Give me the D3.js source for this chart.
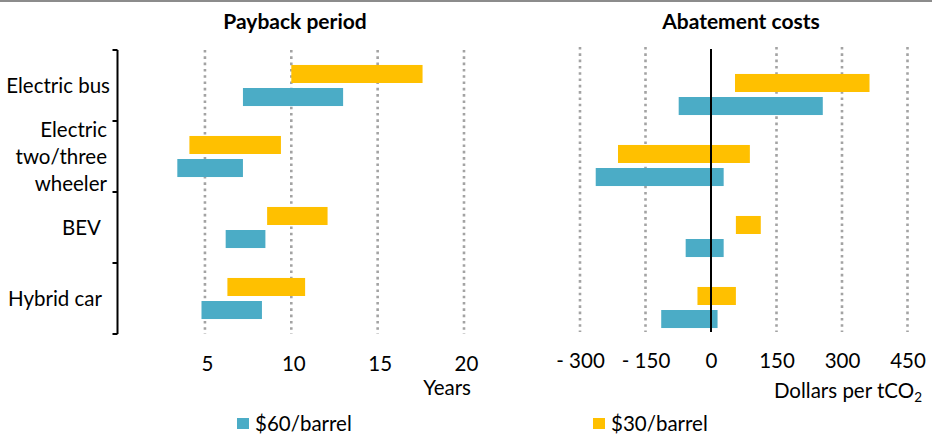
<!DOCTYPE html>
<html><head><meta charset="utf-8">
<script src="https://cdn.jsdelivr.net/npm/d3@7"></script>
<style>
html,body{margin:0;padding:0;background:#fff;}
svg{display:block;font-family:Lato,"Open Sans",sans-serif;}
</style></head>
<body>
<svg id="chart" width="932" height="434"></svg>
<script>
// ---- data ----
const categories = ["Electric bus", "Electric two/three wheeler", "BEV", "Hybrid car"];
const categoryLines = [["Electric bus"], ["Electric", "two/three", "wheeler"], ["BEV"], ["Hybrid car"]];
const seriesNames = ["$30/barrel", "$60/barrel"];
const seriesColors = ["#FFC000", "#4BACC6"];
// [low, high] per category
const payback30 = [[10.0, 17.6], [4.1, 9.4], [8.6, 12.1], [6.3, 10.8]];
const payback60 = [[7.2, 13.0], [3.4, 7.2], [6.2, 8.5], [4.8, 8.3]];
const abate30 = [[55, 363], [-213, 89], [57, 114], [-31, 57]];
const abate60 = [[-74, 256], [-264, 29], [-58, 29], [-114, 15]];
const paybackTicks = [5, 10, 15, 20];
const abateTicks = [-300, -150, 0, 150, 300, 450];
const legendOrder = ["$60/barrel", "$30/barrel"];

const svg = d3.select("#chart");
const FONT_LABEL = 20.5;
const FONT_TITLE = 21;

// top border
svg.append("line").attr("x1", 0).attr("x2", 932).attr("y1", 1).attr("y2", 1)
  .attr("stroke", "#8c8c8c").attr("stroke-width", 2);

function panel(opts) {
  const g = svg.append("g");
  const x = d3.scaleLinear().domain(opts.domain).range(opts.xRange);
  const y = d3.scaleBand().domain(categories).range(opts.yRange);
  const ySub = d3.scaleBand().domain(seriesNames).range([0, y.bandwidth()])
    .paddingInner(0.217).paddingOuter(0.65);

  // gridlines
  g.append("g").selectAll("line").data(opts.grid).join("line")
    .attr("x1", d => x(d)).attr("x2", d => x(d))
    .attr("y1", opts.gridY[0]).attr("y2", opts.gridY[1])
    .attr("stroke", "#a3a3a3").attr("stroke-width", 2.6)
    .attr("stroke-dasharray", "2.6,3.7");

  // bars
  const data = [];
  categories.forEach((c, i) => {
    seriesNames.forEach((s, j) => {
      const v = opts.values[j][i];
      data.push({c, s, lo: v[0], hi: v[1], color: seriesColors[j]});
    });
  });
  g.append("g").selectAll("rect").data(data).join("rect")
    .attr("x", d => x(d.lo))
    .attr("width", d => x(d.hi) - x(d.lo))
    .attr("y", d => y(d.c) + ySub(d.s))
    .attr("height", ySub.bandwidth())
    .attr("fill", d => d.color);

  // tick labels
  const axis = d3.axisBottom(x).tickValues(opts.ticks).tickSize(0).tickPadding(0)
    .tickFormat(opts.fmt);
  const ag = g.append("g").attr("transform", `translate(0,${opts.tickY})`).call(axis);
  ag.select(".domain").remove();
  ag.selectAll("text").attr("font-family", "Lato, sans-serif").attr("font-size", FONT_LABEL)
    .attr("fill", "#000").attr("dy", "0.35em").attr("dx", opts.tickDx || 0);

  // title
  g.append("text").attr("x", opts.titleX).attr("y", 22).attr("dy", "0.35em")
    .attr("text-anchor", "middle").attr("font-weight", "bold")
    .attr("font-size", FONT_TITLE).text(opts.title);

  return {g, x, y};
}

// ---- left panel ----
const left = panel({
  domain: [0, 20], xRange: [118.6, 464.0], yRange: [50, 334],
  grid: paybackTicks, gridY: [50, 334], values: [payback30, payback60],
  ticks: paybackTicks, fmt: d => d, tickY: 364, tickDx: 2,
  titleX: 295, title: "Payback period"
});

// category bracket
const bounds = [50].concat(categories.map(c => left.y(c) + left.y.bandwidth()));
const bx = 117.5;
let path = `M${bx},${bounds[0]} L${bx},${bounds[bounds.length - 1]}`;
bounds.forEach(b => { path += ` M${bx - 5},${b} L${bx},${b}`; });
svg.append("path").attr("d", path).attr("stroke", "#000").attr("stroke-width", 2).attr("fill", "none");

// category labels
const lineH = 27;
const labelRight = [110, 107, 101, 102];
categories.forEach((c, i) => {
  const lines = categoryLines[i];
  const cy = left.y(c) + left.y.bandwidth() / 2;
  const t = svg.append("text").attr("text-anchor", "end").attr("font-size", FONT_LABEL);
  lines.forEach((ln, k) => {
    t.append("tspan").attr("x", labelRight[i])
      .attr("y", cy + (k - (lines.length - 1) / 2) * lineH)
      .attr("dy", "0.35em").text(ln);
  });
});

svg.append("text").attr("x", 471).attr("y", 388).attr("dy", "0.35em")
  .attr("text-anchor", "end").attr("font-size", FONT_LABEL).text("Years");

// ---- right panel ----
const right = panel({
  domain: [-300, 450], xRange: [580, 907.5], yRange: [59, 343],
  grid: abateTicks.filter(d => d !== 0), gridY: [47, 332], values: [abate30, abate60],
  ticks: abateTicks, fmt: d => d < 0 ? "- " + Math.abs(d) : String(d), tickY: 361,
  titleX: 741, title: "Abatement costs"
});
svg.append("line").attr("x1", right.x(0)).attr("x2", right.x(0))
  .attr("y1", 49).attr("y2", 332).attr("stroke", "#000").attr("stroke-width", 2);

const at = svg.append("text").attr("x", 922).attr("y", 391).attr("dy", "0.35em")
  .attr("text-anchor", "end").attr("font-size", FONT_LABEL);
at.append("tspan").text("Dollars per tCO");
at.append("tspan").attr("font-size", 13.5).attr("dy", "0.3em").text("2");

// ---- legend ----
const legendX = [237, 593];
legendOrder.forEach((s, i) => {
  const col = seriesColors[seriesNames.indexOf(s)];
  svg.append("rect").attr("x", legendX[i]).attr("y", 418).attr("width", 12).attr("height", 11).attr("fill", col);
  svg.append("text").attr("x", legendX[i] + 18).attr("y", 424).attr("dy", "0.35em")
    .attr("font-size", FONT_LABEL).text(s);
});
</script>
</body></html>
